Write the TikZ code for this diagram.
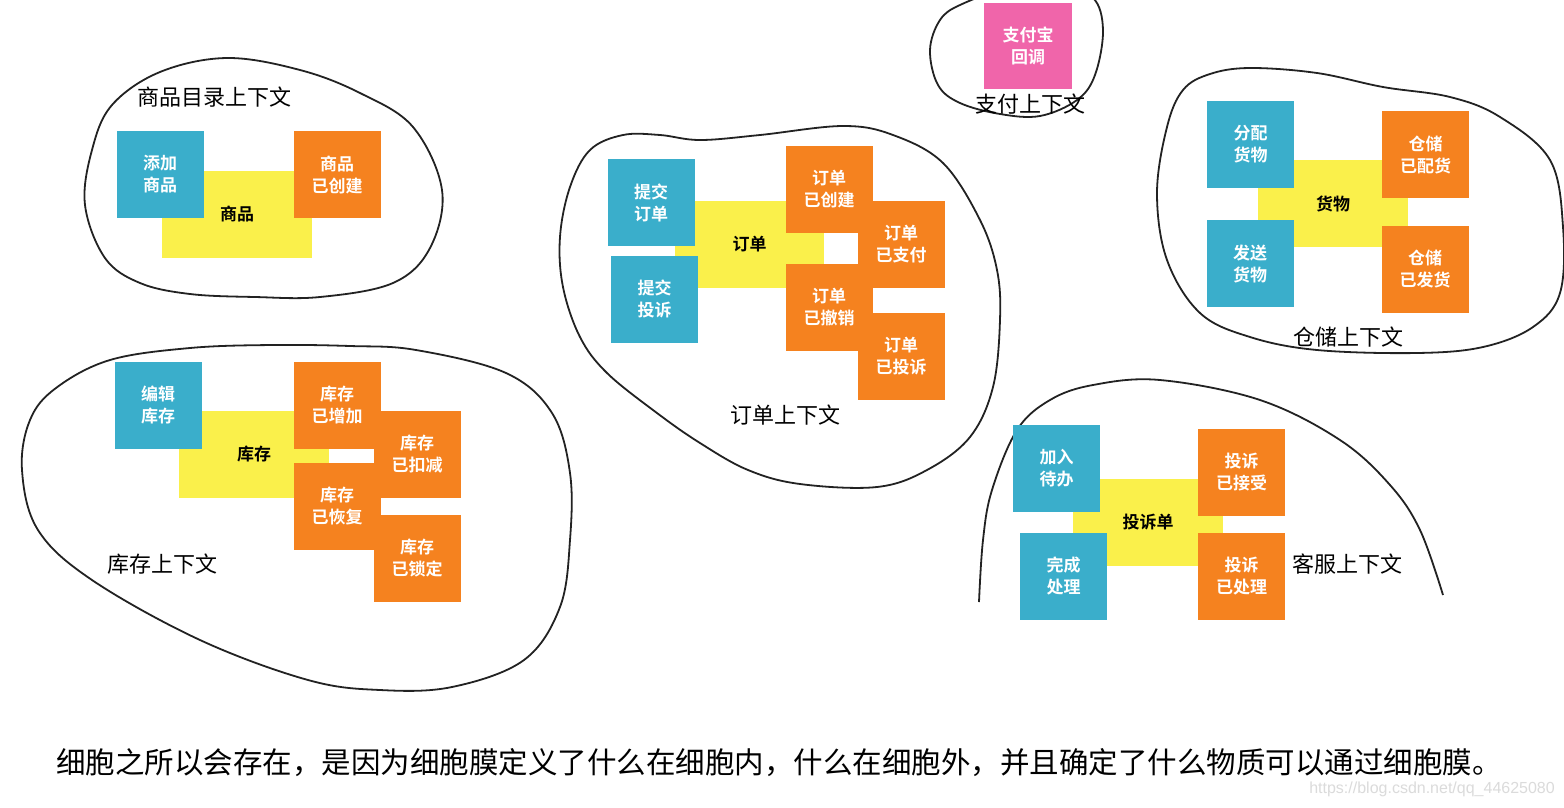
\documentclass[tikz,border=0pt]{standalone}
\usepackage{fontspec}
\setmainfont{Noto Sans CJK SC}[BoldFont={Noto Sans CJK SC Bold}]
\newfontfamily\wmfont{Liberation Sans}
\definecolor{cblue}{HTML}{3AAECB}
\definecolor{corange}{HTML}{F5821F}
\definecolor{cyellow}{HTML}{FAF04B}
\definecolor{cpink}{HTML}{F065AA}
\definecolor{cline}{HTML}{222222}
\begin{document}
\begin{tikzpicture}[x=1pt,y=-1pt,
  card/.style={inner sep=0pt, outer sep=0pt, minimum width=87pt, minimum height=87pt,
    align=center, font=\fontsize{17}{22}\selectfont\bfseries, text=white},
  cmd/.style={card, fill=cblue},
  evt/.style={card, fill=corange},
  ext/.style={card, fill=cpink},
  agg/.style={card, fill=cyellow, minimum width=150pt, text=black},
  ctx/.style={font=\fontsize{22}{26}\selectfont, text=black, inner sep=0pt},
  membrane/.style={draw=cline, line width=1.8pt, line join=round}]
\useasboundingbox (0,0) rectangle (1564,807);
\clip (0,0) rectangle (1564,807);
\fill[white] (0,0) rectangle (1564,807);

% ---- membranes ----
\draw[membrane] plot[smooth cycle, tension=0.6] coordinates {(85,205) (92,150) (112,105) (160,72) (227,58) (300,70) (360,93) (413,127) (442,190) (430,248) (393,283) (320,297) (255,297) (190,294) (140,283) (105,258)};
\draw[membrane] plot[smooth cycle, tension=0.6] coordinates {(560,237) (570,187) (590,150) (623,135) (660,135) (700,140) (760,135) (843,126) (893,135) (943,163) (980,220) (997,270) (1000,320) (993,387) (970,437) (927,470) (877,487) (800,484) (748,470) (700,443) (657,413) (607,373) (580,337) (563,287)};
\draw[membrane] plot[smooth cycle, tension=0.6] coordinates {(930,50) (940,20) (960,5) (1000,-8) (1060,-10) (1093,-2) (1103,30) (1095,75) (1077,100) (1040,116) (1000,114) (960,103) (938,85)};
\draw[membrane] plot[smooth cycle, tension=0.6] coordinates {(1157,193) (1167,127) (1183,90) (1210,74) (1250,68) (1317,73) (1383,87) (1450,97) (1500,117) (1550,160) (1563,227) (1560,293) (1533,327) (1483,347) (1417,353) (1317,350) (1250,337) (1200,313) (1167,260)};
\draw[membrane] plot[smooth cycle, tension=0.6] coordinates {(22,470) (30,420) (56,388) (110,360) (190,348) (272,345) (350,346) (416,350) (506,373) (552,413) (570,473) (570,540) (560,607) (524,660) (452,687) (380,690) (308,680) (200,640) (92,580) (38,530)};
\draw[membrane] plot[smooth, tension=0.6] coordinates {(979,602) (983,540) (992,490) (1017,430) (1050,400) (1093,385) (1160,380) (1260,400) (1340,440) (1390,485) (1420,530) (1443,595)};

% ---- 商品目录上下文 ----
\node[agg] (y1) at (237,214) {商品};
\node[cmd] (b1) at (160,174.5) {添加\\商品};
\node[evt] (o1) at (337,174.5) {商品\\已创建};
\node[ctx] (l1) at (214,97) {商品目录上下文};

% ---- 订单上下文 ----
\node[agg, minimum width=149pt] (y2) at (749.5,244) {订单};
\node[cmd] (b2a) at (651,202.5) {提交\\订单};
\node[cmd] (b2b) at (654.5,299) {提交\\投诉};
\node[evt] (o2b) at (901,244.5) {订单\\已支付};
\node[evt] (o2a) at (829,189) {订单\\已创建};
\node[evt] (o2d) at (901,356) {订单\\已投诉};
\node[evt] (o2c) at (829,307) {订单\\已撤销};
\node[ctx] (l2) at (785,415) {订单上下文};

% ---- 支付上下文 ----
\node[ext, minimum width=88pt, minimum height=86pt] (p3) at (1028,46) {支付宝\\回调};
\node[ctx] (l3) at (1030,104) {支付上下文};

% ---- 仓储上下文 ----
\node[agg] (y4) at (1333,203.5) {货物};
\node[cmd] (b4a) at (1250.5,144.5) {分配\\货物};
\node[cmd] (b4b) at (1250,263.5) {发送\\货物};
\node[evt] (o4a) at (1425.5,154.5) {仓储\\已配货};
\node[evt] (o4b) at (1425,269) {仓储\\已发货};
\node[ctx] (l4) at (1348,337) {仓储上下文};

% ---- 库存上下文 ----
\node[agg] (y5) at (254,454.5) {库存};
\node[cmd] (b5) at (158,405) {编辑\\库存};
\node[evt] (o5b) at (417,454) {库存\\已扣减};
\node[evt] (o5a) at (337,405) {库存\\已增加};
\node[evt] (o5d) at (417,558) {库存\\已锁定};
\node[evt] (o5c) at (337,506) {库存\\已恢复};
\node[ctx] (l5) at (162,564) {库存上下文};

% ---- 客服上下文 ----
\node[agg] (y6) at (1148,522) {投诉单};
\node[cmd] (b6a) at (1056.5,468) {加入\\待办};
\node[cmd] (b6b) at (1063.5,576) {完成\\处理};
\node[evt] (o6a) at (1241.5,472) {投诉\\已接受};
\node[evt] (o6b) at (1241.5,576) {投诉\\已处理};
\node[ctx] (l6) at (1347,564) {客服上下文};

% ---- caption ----
\node[anchor=west, inner sep=0pt, font=\fontsize{29.5}{34}\selectfont] (cap) at (56,763) {细胞之所以会存在，是因为细胞膜定义了什么在细胞内，什么在细胞外，并且确定了什么物质可以通过细胞膜。};
\node[anchor=east, inner sep=0pt, text=black!14, font=\wmfont\fontsize{16}{18}\selectfont] (wm) at (1555,789) {https://blog.csdn.net/qq\_44625080};
\end{tikzpicture}
\end{document}
